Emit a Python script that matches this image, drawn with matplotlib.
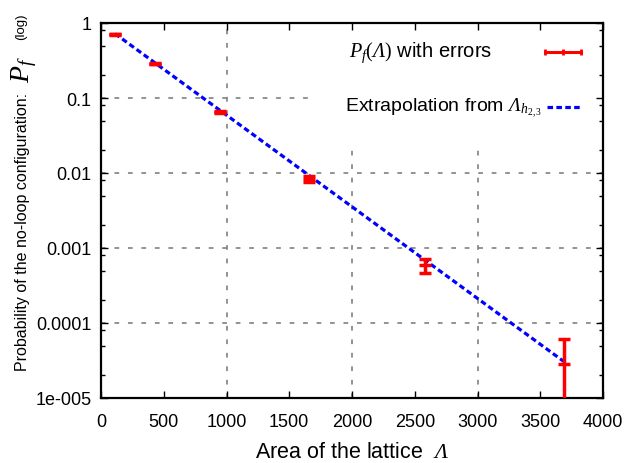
import matplotlib
matplotlib.use("Agg")
import matplotlib.pyplot as plt
import matplotlib.ticker as mticker
from matplotlib.patches import Rectangle

# italic serif for the math bits (Greek capitals included), upright serif via \mathsf
plt.rcParams['mathtext.fontset'] = 'custom'
plt.rcParams['mathtext.rm'] = 'Liberation Serif:italic'
plt.rcParams['mathtext.it'] = 'Liberation Serif:italic'
plt.rcParams['mathtext.sf'] = 'Liberation Serif'
plt.rcParams['lines.scale_dashes'] = False

# values
area = [112, 433, 948, 1660, 2578, 3690]
pf = [0.705, 0.287, 0.065, 0.0084, 5.86e-4, 2.84e-5]
pf_err = [0.012, 0.005, 0.0012, 0.0007, 1.2e-4, 3.2e-5]

line_area = [112, 3690]
line_pf = [0.72, 3.05e-5]

xticks = [0, 500, 1000, 1500, 2000, 2500, 3000, 3500, 4000]
yticks = [1e-5, 1e-4, 1e-3, 1e-2, 1e-1, 1]
ytick_labels = ['1e-005', '0.0001', '0.001', '0.01', '0.1', '1']
xgrid = [1000, 2000, 3000]
ygrid = [1e-4, 1e-3, 1e-2, 1e-1]

sans = ['Liberation Sans', 'DejaVu Sans']

fig = plt.figure(figsize=(6.33, 4.64), dpi=100)
ax = fig.add_axes([101 / 633, 1 - 399 / 464, 502 / 633, 375 / 464])

ax.set_yscale('log')
ax.set_xlim(0, 4000)
ax.set_ylim(1e-5, 1)

# grid, drawn by hand so only the reference lines show
for g in xgrid:
    ax.axvline(g, color='#808080', lw=1.2, dashes=(3.4, 6.3), zorder=0.5)
for g in ygrid:
    ax.axhline(g, color='#808080', lw=1.2, dashes=(3.4, 6.3), zorder=0.5)

# key area hides the grid behind it
ax.add_patch(Rectangle((0.416, 0.669), 0.584, 0.331, transform=ax.transAxes,
                       facecolor='white', edgecolor='none', zorder=1))

ax.plot(line_area, line_pf, color='#0000ff', lw=2.3, dashes=(4.0, 2.4), zorder=3)
ax.errorbar(area, pf, yerr=pf_err, fmt='_', color='#ff0000', ecolor='#ff0000',
            elinewidth=2.5, capsize=4, capthick=2.5, markersize=8, mew=2.5, zorder=4)

# key
ax.text(0.494, 0.923, r'$P_f\mathsf{(}\Lambda\mathsf{)}$ with errors', transform=ax.transAxes,
        ha='left', va='center', fontsize=14.5, family=sans)
ax.plot([0.884, 0.956], [0.923, 0.923], transform=ax.transAxes, color='#ff0000', lw=2.2,
        zorder=4)
ax.plot([0.884, 0.92, 0.956], [0.923, 0.923, 0.923], transform=ax.transAxes, ls='none',
        marker='|', markersize=5, mew=2, color='#ff0000', zorder=4)
ax.text(0.486, 0.776, r'Extrapolation from $\Lambda_{h_{\mathsf{2,3}}}$', transform=ax.transAxes,
        ha='left', va='center', fontsize=14, family=sans)
ax.plot([0.888, 0.956], [0.776, 0.776], transform=ax.transAxes, color='#0000ff', lw=2.3,
        dashes=(4.0, 2.4), zorder=4)

# ticks
ax.set_xticks(xticks)
ax.set_yticks(yticks)
ax.set_yticklabels(ytick_labels)
ax.yaxis.set_minor_locator(mticker.LogLocator(base=10, subs=(0.2, 0.5, 0.8), numticks=20))
ax.yaxis.set_minor_formatter(mticker.NullFormatter())
ax.tick_params(which='both', direction='in', top=True, right=True)
ax.tick_params(which='major', length=5, width=1)
ax.tick_params(axis='x', which='major', pad=11)
ax.tick_params(axis='y', which='major', pad=7)
ax.tick_params(which='minor', length=3, width=1)
for lab in ax.get_xticklabels() + ax.get_yticklabels():
    lab.set_family(sans)
    lab.set_fontsize(13)

for s in ax.spines.values():
    s.set_linewidth(1.6)

ax.set_xlabel(r'Area of the lattice  $\Lambda$', family=sans, fontsize=15.5, labelpad=8)

fig.text(23 / 633, 1 - 232 / 464, 'Probability of the no-loop configuration:', rotation=90,
         ha='center', va='center', fontsize=11.5, family=sans)
fig.text(24 / 633, 1 - 70 / 464, r'$P_f$', rotation=90, ha='center', va='center', fontsize=20)
fig.text(21 / 633, 1 - 27 / 464, '(log)', rotation=90, ha='center', va='center', fontsize=9.5,
         family=sans)

fig.savefig('out.png', dpi=100)
